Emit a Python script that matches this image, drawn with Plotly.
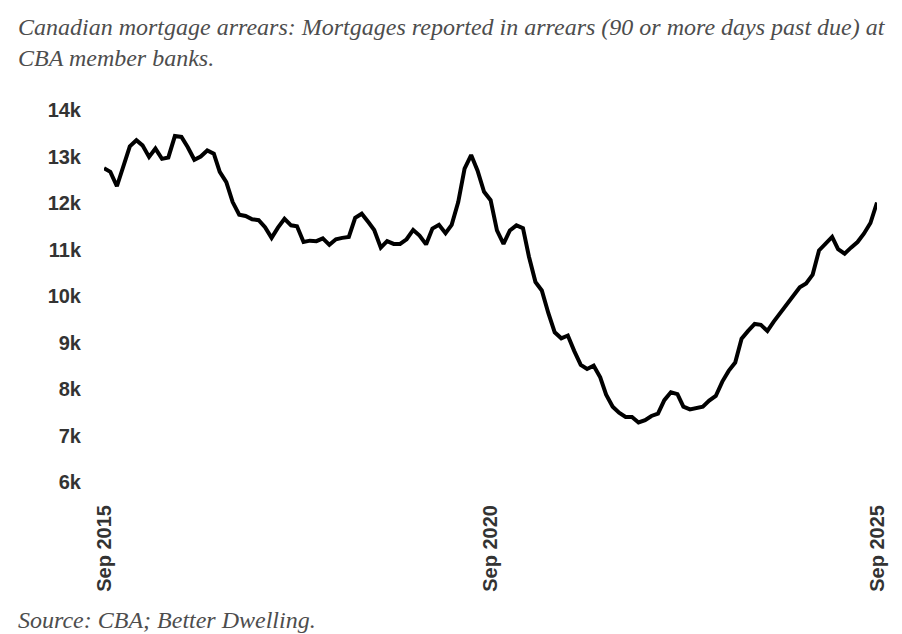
import pandas as pd
import plotly.graph_objects as go

start_month = "2015-09-01"
arrears = [
    12750, 12670, 12360, 12770, 13220, 13350, 13240, 12990, 13170, 12950,
    12980, 13440, 13420, 13200, 12930, 13000, 13130, 13060, 12670, 12450,
    12020, 11750, 11720, 11650, 11630, 11480, 11250, 11470, 11660, 11520,
    11500, 11160, 11190, 11180, 11240, 11100, 11220, 11250, 11270, 11680,
    11770, 11590, 11420, 11040, 11180, 11120, 11120, 11220, 11420, 11300,
    11110, 11450, 11530, 11350, 11530, 12020, 12740, 13030, 12700, 12240,
    12060, 11410, 11120, 11410, 11520, 11460, 10850, 10300, 10120, 9630,
    9220, 9090, 9150, 8820, 8520, 8430, 8500, 8250, 7880, 7620,
    7490, 7400, 7400, 7280, 7330, 7420, 7470, 7760, 7930, 7890,
    7620, 7560, 7590, 7620, 7750, 7850, 8160, 8390, 8570, 9080,
    9250, 9400, 9380, 9250, 9450, 9640, 9840, 10030, 10190, 10270,
    10460, 10980, 11140, 11270, 11010, 10910, 11040, 11160, 11340, 11570,
    12010,
]
months = pd.date_range(start_month, periods=len(arrears), freq="MS")

x_tick_vals = ["2015-09-01", "2020-09-01", "2025-09-01"]
x_tick_text = ["Sep 2015", "Sep 2020", "Sep 2025"]
y_tick_vals = [6000, 7000, 8000, 9000, 10000, 11000, 12000, 13000, 14000]
y_tick_text = ["6k", "7k", "8k", "9k", "10k", "11k", "12k", "13k", "14k"]

title_line1 = "Canadian mortgage arrears: Mortgages reported in arrears (90 or more days past due) at"
title_line2 = "CBA member banks."
source_text = "Source: CBA; Better Dwelling."

fig = go.Figure()
fig.add_trace(go.Scatter(
    x=months, y=arrears, mode="lines",
    line=dict(color="#000000", width=4),
    hoverinfo="skip",
))

W, H = 902, 634
L, R, T, B = 104, 25, 110, 152
pw = W - L - R
ph = H - T - B

def px_x(x):
    return (x - L) / pw

def px_y(y):
    return (H - B - y) / ph

serif = dict(family="Liberation Serif", size=24, color="#4d4d4d")
for txt, yc in [(title_line1, 27), (title_line2, 58), (source_text, 620)]:
    fig.add_annotation(
        text=f"<i>{txt}</i>", xref="paper", yref="paper",
        x=px_x(16), y=px_y(yc), xanchor="left", yanchor="middle",
        showarrow=False, font=serif,
    )

fig.update_layout(
    width=W, height=H,
    margin=dict(l=L, r=R, t=T, b=B),
    paper_bgcolor="white", plot_bgcolor="white",
    showlegend=False,
    xaxis=dict(
        range=["2015-09-01", "2025-09-01"],
        tickvals=x_tick_vals, ticktext=x_tick_text,
        tickangle=-90, showgrid=False, zeroline=False, showline=False,
        ticks="", ticklabelstandoff=18,
        tickfont=dict(family="Liberation Sans", size=20, color="#333333", weight="bold"),
    ),
    yaxis=dict(
        range=[6000, 14000],
        tickvals=y_tick_vals, ticktext=y_tick_text,
        showgrid=False, zeroline=False, showline=False,
        ticks="", ticklabelstandoff=22,
        tickfont=dict(family="Liberation Sans", size=20, color="#333333", weight="bold"),
    ),
)

fig.write_html(
    "out.html",
    config={"displayModeBar": False},
    post_script="document.body.style.margin='0';document.body.style.overflow='hidden';",
)
